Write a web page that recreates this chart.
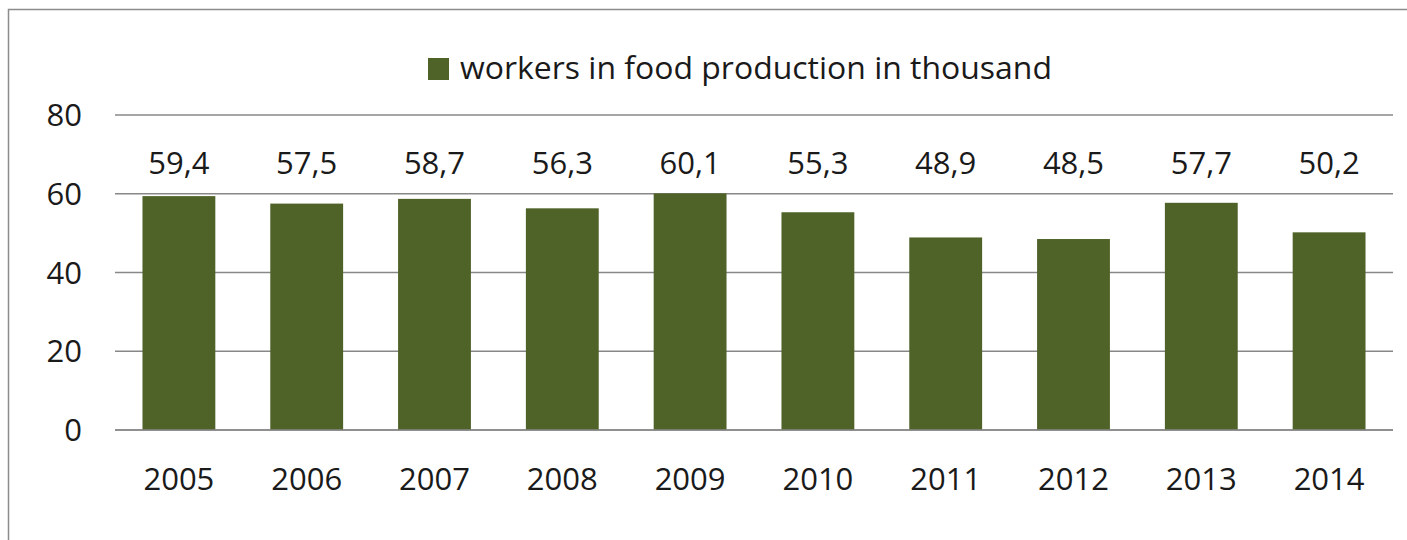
<!DOCTYPE html>
<html>
<head>
<meta charset="utf-8">
<script src="https://cdn.jsdelivr.net/npm/d3@7"></script>
<style>
  body { margin: 0; background: #fff; }
  text { font-family: "Open Sans", sans-serif; fill: #1a1a1a; }
</style>
</head>
<body>
<div id="chart"></div>
<script>
const years = ["2005", "2006", "2007", "2008", "2009", "2010", "2011", "2012", "2013", "2014"];
const workers = [59.4, 57.5, 58.7, 56.3, 60.1, 55.3, 48.9, 48.5, 57.7, 50.2];
const yTicks = [0, 20, 40, 60, 80];
const seriesName = "workers in food production in thousand";

const width = 1407,
  height = 540;

const margin = { top: 115, right: 14, bottom: 110, left: 115 };

const barColor = "#4f6228";

const svg = d3
  .select("#chart")
  .append("svg")
  .attr("width", width)
  .attr("height", height);

// outer frame (only top and left edges visible)
svg
  .append("path")
  .attr("d", `M8.5,${height} V9.5 H${width}`)
  .attr("fill", "none")
  .attr("stroke", "#8c8c8c")
  .attr("stroke-width", 1.5);

const x = d3
  .scaleBand()
  .domain(years)
  .range([margin.left, width - margin.right])
  .paddingInner(0.43)
  .paddingOuter(0.215);

const y = d3
  .scaleLinear()
  .domain([0, 80])
  .range([height - margin.bottom, margin.top]);

// gridlines
svg
  .append("g")
  .selectAll("line")
  .data(yTicks)
  .enter()
  .append("line")
  .attr("x1", margin.left)
  .attr("x2", width - margin.right)
  .attr("y1", (d) => y(d))
  .attr("y2", (d) => y(d))
  .attr("stroke", "#888")
  .attr("stroke-width", 1.5);

// y tick labels
svg
  .append("g")
  .selectAll("text")
  .data(yTicks)
  .enter()
  .append("text")
  .attr("x", 82)
  .attr("y", (d) => y(d) + 11)
  .attr("text-anchor", "end")
  .style("font-size", "31px")
  .text((d) => d);

// bars
svg
  .append("g")
  .selectAll("rect")
  .data(workers)
  .enter()
  .append("rect")
  .attr("x", (d, i) => x(years[i]))
  .attr("y", (d) => y(d))
  .attr("width", x.bandwidth())
  .attr("height", (d) => y(0) - y(d))
  .attr("fill", barColor);

// zero line on top of bars
svg
  .append("line")
  .attr("x1", margin.left)
  .attr("x2", width - margin.right)
  .attr("y1", y(0))
  .attr("y2", y(0))
  .attr("stroke", "#888")
  .attr("stroke-width", 1.5);

// value labels
svg
  .append("g")
  .selectAll("text")
  .data(workers)
  .enter()
  .append("text")
  .attr("x", (d, i) => x(years[i]) + x.bandwidth() / 2)
  .attr("y", 174)
  .attr("text-anchor", "middle")
  .style("font-size", "31px")
  .text((d) => d.toFixed(1).replace(".", ","));

// x labels
svg
  .append("g")
  .selectAll("text")
  .data(years)
  .enter()
  .append("text")
  .attr("x", (d) => x(d) + x.bandwidth() / 2)
  .attr("y", 490)
  .attr("text-anchor", "middle")
  .style("font-size", "31px")
  .text((d) => d);

// legend
const legend = svg.append("g");

legend
  .append("rect")
  .attr("x", 428)
  .attr("y", 58)
  .attr("width", 21)
  .attr("height", 22)
  .attr("fill", barColor);

legend
  .append("text")
  .attr("x", 460)
  .attr("y", 79)
  .style("font-size", "31px")
  .attr("textLength", 592)
  .attr("lengthAdjust", "spacingAndGlyphs")
  .text(seriesName);
</script>
</body>
</html>
